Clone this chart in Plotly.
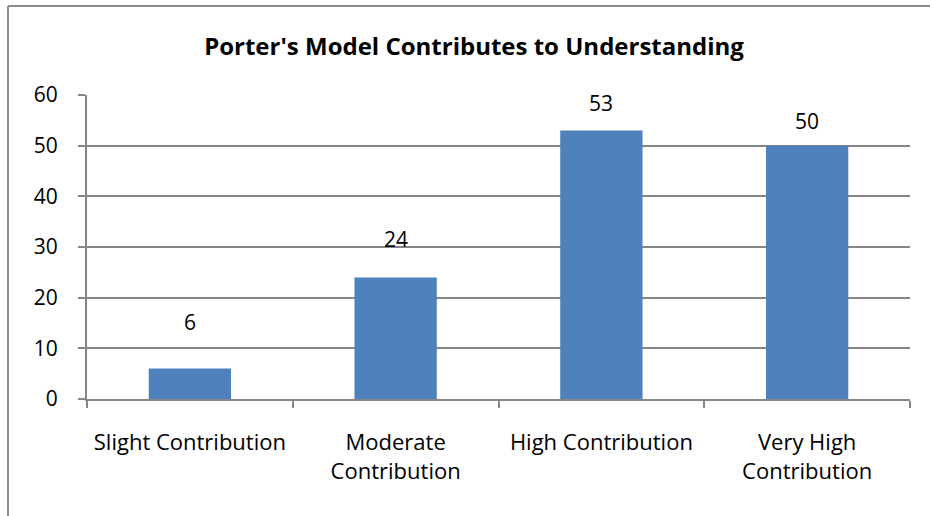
import plotly.graph_objects as go

categories = ["Slight Contribution", "Moderate<br>Contribution", "High Contribution", "Very High<br>Contribution"]
values = [6, 24, 53, 50]
y_ticks = [0, 10, 20, 30, 40, 50, 60]
title = "Porter's Model Contributes to Understanding"

W, H = 930, 516
ml, mr, mt, mb = 87, 20, 95, 117
pw, ph = W - ml - mr, H - mt - mb
FONT = "Open Sans"

fig = go.Figure()
fig.add_trace(go.Bar(
    x=categories, y=values,
    marker=dict(color="#4F81BD", line=dict(width=0)),
    width=0.4,
))

label_shift = [47, 38, 27, 25]
for c, v, s in zip(categories, values, label_shift):
    fig.add_annotation(x=c, y=v, text=str(v), showarrow=False, yshift=s,
                       font=dict(size=21, color="#000", family=FONT))

grid = "#868686"
fig.update_layout(
    width=W, height=H,
    margin=dict(l=ml, r=mr, t=mt, b=mb),
    paper_bgcolor="white", plot_bgcolor="white",
    showlegend=False,
    title=dict(text="<b>" + title + "</b>", x=474 / W, xanchor="center",
               y=1 - 47 / H, yanchor="middle",
               font=dict(size=24, family=FONT, color="#000")),
    xaxis=dict(showline=True, linecolor=grid, linewidth=2, ticks="outside",
               tickson="boundaries", ticklen=7, tickcolor=grid, tickwidth=2,
               tickfont=dict(size=22, family=FONT, color="#000"),
               ticklabelstandoff=23, showgrid=False),
    yaxis=dict(range=[0, 60], tickvals=y_ticks, showline=True, linecolor=grid,
               linewidth=2, ticks="outside", ticklen=7, tickcolor=grid, tickwidth=2,
               showgrid=True, gridcolor=grid, gridwidth=2, zeroline=False,
               tickfont=dict(size=21, family=FONT, color="#000"),
               ticklabelstandoff=16),
)

# outer chart border (left and top edges visible)
bx = (8 - ml) / pw
by = 1 + (mt - 6) / ph
fig.add_shape(type="line", xref="paper", yref="paper", x0=bx, x1=bx, y0=-1, y1=by,
              line=dict(color="#8c8c8c", width=2))
fig.add_shape(type="line", xref="paper", yref="paper", x0=bx, x1=1.2, y0=by, y1=by,
              line=dict(color="#8c8c8c", width=2))

fig.write_html("out.html", config={"displayModeBar": False},
               post_script="document.body.style.margin='0';document.body.style.overflow='hidden';")
